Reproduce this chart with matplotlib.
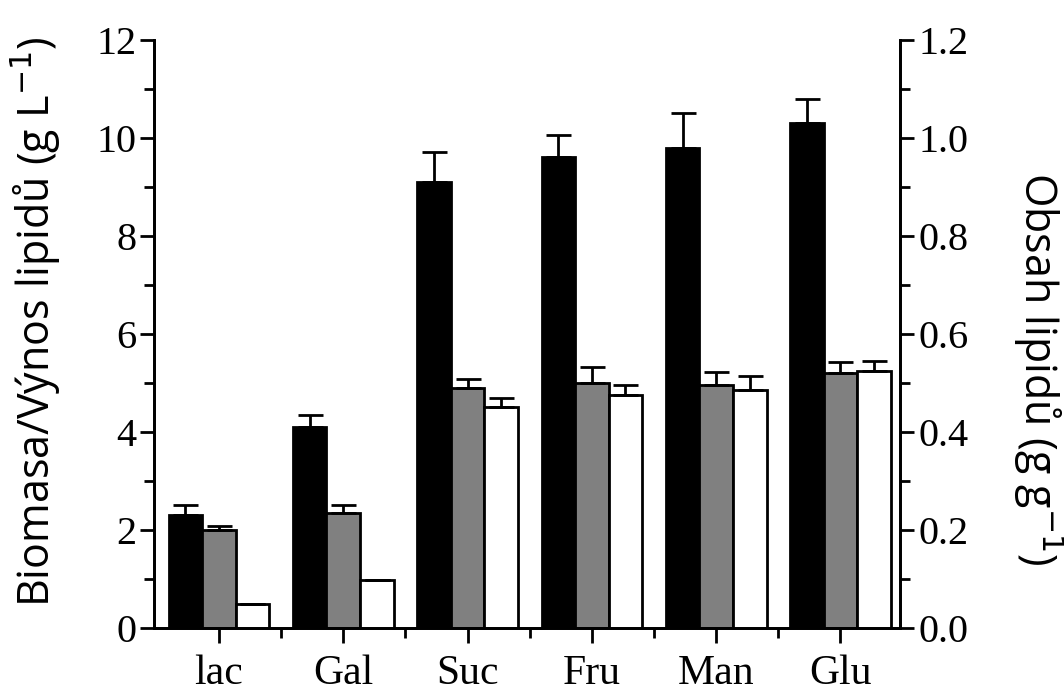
import matplotlib.pyplot as plt
import numpy as np

sugars = ["lac", "Gal", "Suc", "Fru", "Man", "Glu"]
# biomass (g/L), left axis
biomass = [2.3, 4.1, 9.1, 9.6, 9.8, 10.3]
biomass_err = [0.2, 0.25, 0.6, 0.45, 0.7, 0.5]
# lipid yield (g/L), left axis
lipid_yield = [2.0, 2.35, 4.9, 5.0, 4.95, 5.2]
lipid_yield_err = [0.08, 0.15, 0.18, 0.33, 0.28, 0.22]
# lipid content (g/g), right axis
lipid_content = [0.048, 0.098, 0.45, 0.475, 0.485, 0.525]
lipid_content_err = [0.0, 0.0, 0.02, 0.02, 0.03, 0.02]

x = np.arange(len(sugars))
w = 0.27

plt.rcParams['font.family'] = ['Liberation Serif', 'DejaVu Serif']
fig = plt.figure(figsize=(10.64, 6.97), dpi=100)
ax = fig.add_axes([0.145, 0.099, 0.701, 0.844])
ax2 = ax.twinx()

ax.bar(x - w, biomass, w, color='black', edgecolor='black', linewidth=2, zorder=2)
ax.bar(x, lipid_yield, w, color='#808080', edgecolor='black', linewidth=2, zorder=2)
ax2.bar(x + w, lipid_content, w, color='white', edgecolor='black', linewidth=2, zorder=2)

ekw = dict(fmt='none', ecolor='black', elinewidth=2, capsize=9, capthick=2, zorder=3)
ax.errorbar(x - w, biomass, yerr=[np.zeros(6), biomass_err], **ekw)
ax.errorbar(x, lipid_yield, yerr=[np.zeros(6), lipid_yield_err], **ekw)
ax2.errorbar(x + w, lipid_content, yerr=[np.zeros(6), lipid_content_err], **ekw)

ax.set_xlim(-0.52, 5.48)
ax.set_ylim(0, 12)
ax2.set_ylim(0, 1.2)

ax.set_yticks(np.arange(0, 13, 2))
ax.set_yticks(np.arange(1, 12, 2), minor=True)
ax2.set_yticks(np.arange(0, 1.21, 0.2))
ax2.set_yticks(np.arange(0.1, 1.2, 0.2), minor=True)
ax2.set_yticklabels([f"{v:.1f}" for v in np.arange(0, 1.21, 0.2)])
ax.set_xticks(x)
ax.set_xticklabels(sugars)
ax.set_xticks(x[:-1] + 0.5, minor=True)

for a in (ax, ax2):
    a.spines['top'].set_visible(False)
    for s in a.spines.values():
        s.set_linewidth(2)
    a.tick_params(which='major', length=10, width=2, labelsize=29, pad=3)
    a.tick_params(which='minor', length=7, width=2)
ax.tick_params(axis='x', which='major', length=11, pad=8, labelsize=30)
ax.tick_params(axis='x', which='minor', length=7)

ax.set_ylabel("Biomasa/Výnos lipidů (g L$^{-1}$)", family='Open Sans', fontsize=31, va='center')
ax.yaxis.set_label_coords(-0.158, 0.52)
ax2.set_ylabel("Obsah lipidů (g g$^{-1}$)", family='Open Sans', fontsize=31, rotation=270, va='center')
ax2.yaxis.set_label_coords(1.184, 0.44)

fig.savefig("out.png", dpi=100)
